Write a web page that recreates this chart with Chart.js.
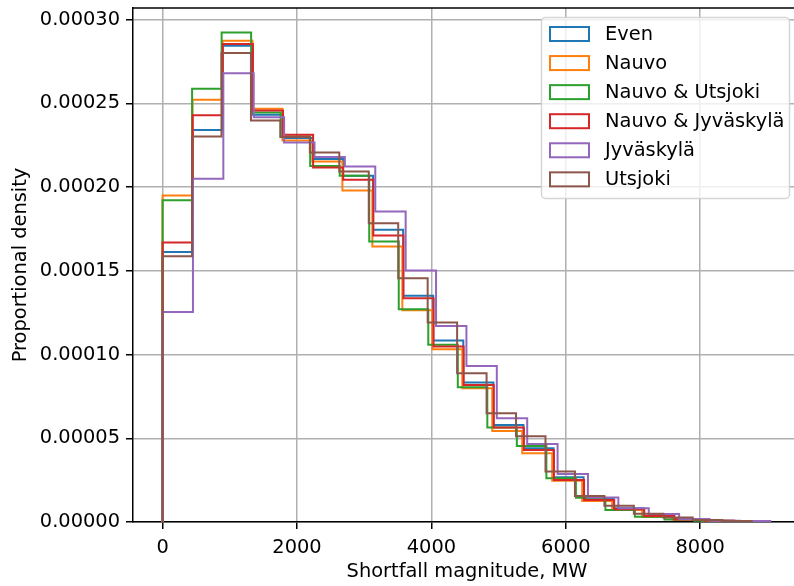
<!DOCTYPE html>
<html>
<head>
<meta charset="utf-8">
<title>Shortfall magnitude distribution</title>
<script src="https://cdn.jsdelivr.net/npm/chart.js@4.4.1/dist/chart.umd.min.js"></script>
<style>
  html, body { margin: 0; padding: 0; background: #fff; overflow: hidden; }
  canvas { display: block; }
</style>
</head>
<body>
<canvas id="shortfallChart" width="801" height="586"></canvas>
<script>
'use strict';

// series names, in drawing order (last one ends up on top)
const seriesNames = ['Even', 'Nauvo', 'Nauvo & Utsjoki', 'Nauvo & Jyväskylä', 'Jyväskylä', 'Utsjoki'];
const seriesColors = ['#1f77b4', '#ff7f0e', '#2ca02c', '#d62728', '#9467bd', '#8c564b'];

// every histogram uses 20 equal bins from 0 up to the largest shortfall of that run (MW)
const binCount = 20;
const rangeMax = [8950, 8920, 8786, 8960, 9043, 8766];

// bin densities (per MW)
const evenDensity = [1.612e-4, 2.341e-4, 2.845e-4, 2.432e-4, 2.293e-4, 2.168e-4, 2.068e-4, 1.745e-4, 1.351e-4, 1.084e-4,
  0.833e-4, 0.580e-4, 0.440e-4, 0.267e-4, 0.142e-4, 0.082e-4, 0.036e-4, 0.016e-4, 0.008e-4, 0.003e-4];
const nauvoDensity = [1.950e-4, 2.522e-4, 2.874e-4, 2.468e-4, 2.279e-4, 2.153e-4, 1.980e-4, 1.645e-4, 1.265e-4, 1.032e-4,
  0.799e-4, 0.544e-4, 0.410e-4, 0.247e-4, 0.125e-4, 0.072e-4, 0.030e-4, 0.015e-4, 0.007e-4, 0.003e-4];
const nauvoUtsjokiDensity = [1.922e-4, 2.588e-4, 2.924e-4, 2.446e-4, 2.303e-4, 2.127e-4, 2.068e-4, 1.675e-4, 1.271e-4, 1.058e-4,
  0.805e-4, 0.564e-4, 0.454e-4, 0.261e-4, 0.145e-4, 0.072e-4, 0.032e-4, 0.015e-4, 0.007e-4, 0.003e-4];
const nauvoJyvaskylaDensity = [1.669e-4, 2.430e-4, 2.855e-4, 2.458e-4, 2.313e-4, 2.117e-4, 2.044e-4, 1.711e-4, 1.337e-4, 1.048e-4,
  0.819e-4, 0.564e-4, 0.430e-4, 0.251e-4, 0.131e-4, 0.076e-4, 0.036e-4, 0.015e-4, 0.007e-4, 0.003e-4];
const jyvaskylaDensity = [1.255e-4, 2.050e-4, 2.681e-4, 2.418e-4, 2.267e-4, 2.180e-4, 2.123e-4, 1.854e-4, 1.502e-4, 1.171e-4,
  0.932e-4, 0.620e-4, 0.466e-4, 0.287e-4, 0.147e-4, 0.082e-4, 0.048e-4, 0.018e-4, 0.008e-4, 0.006e-4];
const utsjokiDensity = [1.588e-4, 2.303e-4, 2.801e-4, 2.398e-4, 2.300e-4, 2.207e-4, 2.093e-4, 1.785e-4, 1.456e-4, 1.191e-4,
  0.889e-4, 0.650e-4, 0.512e-4, 0.301e-4, 0.155e-4, 0.097e-4, 0.050e-4, 0.027e-4, 0.012e-4, 0.006e-4];

const densities = [evenDensity, nauvoDensity, nauvoUtsjokiDensity, nauvoJyvaskylaDensity, jyvaskylaDensity, utsjokiDensity];

// axis ticks
const xTicks = [0, 2000, 4000, 6000, 8000];
const yTicks = [0, 0.00005, 0.0001, 0.00015, 0.0002, 0.00025, 0.0003];

const FONT = "'DejaVu Sans', sans-serif";
const FONT_SIZE = 19.4;

// outline of a step histogram: up at 0, across each bin, back down at the last edge
function stepOutline(heights, maxValue) {
  const width = maxValue / binCount;
  const pts = [{ x: 0, y: 0 }];
  for (let i = 0; i < heights.length; i++) {
    pts.push({ x: i * width, y: heights[i] });
  }
  pts.push({ x: maxValue, y: 0 });
  return pts;
}

const datasets = seriesNames.map((name, i) => ({
  label: name,
  data: stepOutline(densities[i], rangeMax[i]),
  borderColor: seriesColors[i],
  backgroundColor: seriesColors[i],
  borderWidth: 2,
  stepped: 'before',
  fill: false,
  pointRadius: 0,
  pointHoverRadius: 0,
  borderJoinStyle: 'miter',
  borderCapStyle: 'butt',
  order: seriesNames.length - 1 - i
}));

// top spine plus a boxed legend in the upper right corner
const framePlugin = {
  id: 'frameAndLegend',
  afterDatasetsDraw(chart) {
    const { ctx, chartArea } = chart;
    ctx.save();
    ctx.strokeStyle = '#000';
    ctx.lineWidth = 1.5;
    ctx.beginPath();
    ctx.moveTo(chartArea.left, chartArea.top);
    ctx.lineTo(chartArea.right, chartArea.top);
    ctx.stroke();

    const boxX = 541.5, boxY = 17.5, boxW = 248, boxH = 181;
    ctx.beginPath();
    ctx.roundRect(boxX, boxY, boxW, boxH, 4);
    ctx.fillStyle = 'rgba(255,255,255,0.8)';
    ctx.fill();
    ctx.strokeStyle = 'rgba(204,204,204,0.8)';
    ctx.lineWidth = 1.5;
    ctx.stroke();

    ctx.font = FONT_SIZE + 'px ' + FONT;
    ctx.textBaseline = 'middle';
    ctx.textAlign = 'left';
    seriesNames.forEach((name, i) => {
      const cy = 34 + i * 29.07;
      ctx.strokeStyle = seriesColors[i];
      ctx.lineWidth = 2;
      ctx.strokeRect(550, cy - 7, 39, 14);
      ctx.fillStyle = '#000';
      ctx.fillText(name, 605, cy + 1);
    });
    ctx.restore();
  }
};

Chart.defaults.color = '#000';
Chart.defaults.font.family = FONT;
Chart.defaults.font.size = FONT_SIZE;

new Chart(document.getElementById('shortfallChart'), {
  type: 'line',
  data: { datasets: datasets },
  plugins: [framePlugin],
  options: {
    responsive: false,
    animation: false,
    devicePixelRatio: 1,
    layout: { padding: { top: 8, left: 0, right: 0, bottom: 0 } },
    plugins: {
      legend: { display: false },
      tooltip: { enabled: false }
    },
    scales: {
      x: {
        type: 'linear',
        min: -440,
        max: 9500,
        afterFit: (scale) => {
          scale.height = 64;
          scale.paddingLeft = 0;
          scale.paddingRight = 0;
        },
        afterBuildTicks: (scale) => { scale.ticks = xTicks.map(v => ({ value: v })); },
        ticks: {
          padding: 7,
          maxRotation: 0,
          callback: (v) => String(v)
        },
        grid: {
          color: '#b0b0b0',
          lineWidth: 1.5,
          tickColor: '#000',
          tickLength: 7,
          tickWidth: 1.5
        },
        border: { color: '#000', width: 1.5 },
        title: {
          display: true,
          text: 'Shortfall magnitude, MW',
          padding: { top: 0, bottom: 2 }
        }
      },
      y: {
        type: 'linear',
        min: 0,
        max: 0.000307,
        afterFit: (scale) => {
          scale.width = 133;
          scale.paddingTop = 0;
          scale.paddingBottom = 0;
        },
        afterBuildTicks: (scale) => { scale.ticks = yTicks.map(v => ({ value: v })); },
        ticks: {
          padding: 6,
          callback: (v) => Number(v).toFixed(5)
        },
        grid: {
          color: '#b0b0b0',
          lineWidth: 1.5,
          tickColor: '#000',
          tickLength: 7,
          tickWidth: 1.5
        },
        border: { color: '#000', width: 1.5 },
        title: {
          display: true,
          text: 'Proportional density',
          padding: { top: 9, bottom: 0 }
        }
      }
    }
  }
});
</script>
</body>
</html>
